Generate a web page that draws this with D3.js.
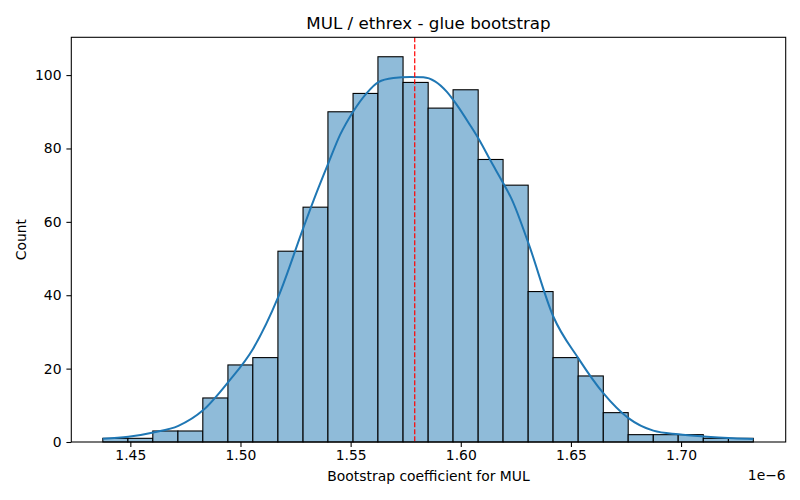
<!DOCTYPE html>
<html>
<head>
<meta charset="utf-8">
<script src="https://cdn.jsdelivr.net/npm/d3@7"></script>
<style>
	body { margin: 0; background: #fff; }
	svg { font-family: "DejaVu Sans", sans-serif; }
</style>
</head>
<body>
<svg id="chart"></svg>
<script>

	// histogram bins (x in units of 1e-6)
	var binEdges = [1.4375, 1.4489, 1.4602, 1.4716, 1.4829, 1.4943, 1.5056, 1.5170, 1.5284,
		1.5397, 1.5511, 1.5624, 1.5738, 1.5852, 1.5965, 1.6079, 1.6192, 1.6306, 1.6419,
		1.6533, 1.6647, 1.6760, 1.6874, 1.6987, 1.7101, 1.7215, 1.7328];

	var counts = [1, 1, 3, 3, 12, 21, 23, 52, 64, 90, 95, 105, 98, 91, 96, 77, 70, 41,
		23, 18, 8, 2, 2, 2, 1, 1];

	// kde curve
	var kdeX = [1.4375, 1.4491, 1.4604, 1.4718, 1.4831, 1.4945, 1.5058, 1.5172, 1.5285,
		1.5334, 1.5399, 1.5452, 1.5512, 1.5573, 1.5626, 1.5694, 1.5770, 1.5830, 1.5883,
		1.5936, 1.5982, 1.6042, 1.6088, 1.6133, 1.6193, 1.6231, 1.6307, 1.6420, 1.6534,
		1.6647, 1.6761, 1.6874, 1.6988, 1.7101, 1.7237, 1.7328];

	var kdeY = [0.9, 1.4, 2.6, 4.4, 8.7, 16.4, 25.5, 39.6, 58.3,
		66.2, 76.0, 83.7, 90.1, 95.1, 98.1, 99.2, 99.5, 99.4, 98.3,
		95.5, 91.9, 86.4, 81.9, 76.9, 70.5, 66.2, 54.2, 34.2, 22.8,
		13.3, 6.5, 3.1, 2.1, 1.5, 1.0, 0.8];

	var xTicks = [1.45, 1.50, 1.55, 1.60, 1.65, 1.70];
	var yTicks = [0, 20, 40, 60, 80, 100];
	var refLine = 1.5791;

	(function() {

		var width = 800,
			height = 500,
			mLeft = 71.3,
			mRight = 785.7,
			mTop = 37.3,
			mBottom = 442;

		var svg = d3.select("#chart")
			.attr("width", width)
			.attr("height", height)

		var x = d3.scaleLinear()
			.domain([1.4232, 1.7475])
			.range([mLeft, mRight]);

		var y = d3.scaleLinear()
			.domain([0, 110.3])
			.range([mBottom, mTop]);

		var bins = counts.map(function(c, i) {
			return { x0: binEdges[i], x1: binEdges[i + 1], count: c };
		});

		// bars
		svg.append("g")
			.selectAll("rect")
			.data(bins)
			.enter().append("rect")
			.attr("x", function(d) { return x(d.x0); })
			.attr("y", function(d) { return y(d.count); })
			.attr("width", function(d) { return x(d.x1) - x(d.x0); })
			.attr("height", function(d) { return y(0) - y(d.count); })
			.style("fill", "#8fbbd9")
			.style("stroke", "#000")
			.style("stroke-width", 1.1);

		// kde
		var line = d3.line()
			.x(function(d) { return x(d[0]); })
			.y(function(d) { return y(d[1]); })
			.curve(d3.curveMonotoneX);

		svg.append("path")
			.attr("d", line(d3.zip(kdeX, kdeY)))
			.style("fill", "none")
			.style("stroke", "#1f77b4")
			.style("stroke-width", 2);

		// reference line
		svg.append("line")
			.attr("x1", x(refLine))
			.attr("x2", x(refLine))
			.attr("y1", mTop)
			.attr("y2", mBottom)
			.style("stroke", "red")
			.style("stroke-width", 1.2)
			.style("stroke-dasharray", "5,2");

		// axes
		var xAxis = d3.axisBottom(x)
			.tickValues(xTicks)
			.tickFormat(d3.format(".2f"))
			.tickSize(4.9)
			.tickPadding(4.9);

		var yAxis = d3.axisLeft(y)
			.tickValues(yTicks)
			.tickSize(4.9)
			.tickPadding(4.9);

		var gx = svg.append("g")
			.attr("transform", "translate(0," + mBottom + ")")
			.call(xAxis);

		var gy = svg.append("g")
			.attr("transform", "translate(" + mLeft + ",0)")
			.call(yAxis);

		[gx, gy].forEach(function(g) {
			g.select(".domain").remove();
			g.selectAll("line").style("stroke", "#000").style("stroke-width", 1.07);
			g.selectAll("text")
				.style("font-size", "13.9px")
				.style("fill", "#000")
				.style("font-family", "DejaVu Sans, sans-serif");
		});

		gx.selectAll("text").attr("dy", "0.6em");

		// frame
		svg.append("rect")
			.attr("x", mLeft)
			.attr("y", mTop)
			.attr("width", mRight - mLeft)
			.attr("height", mBottom - mTop)
			.style("fill", "none")
			.style("stroke", "#000")
			.style("stroke-width", 1.07);

		// texts
		svg.append("text")
			.attr("x", (mLeft + mRight) / 2)
			.attr("y", 28.5)
			.style("text-anchor", "middle")
			.style("font-size", "16.7px")
			.text("MUL / ethrex - glue bootstrap");

		svg.append("text")
			.attr("x", (mLeft + mRight) / 2)
			.attr("y", 481)
			.style("text-anchor", "middle")
			.style("font-size", "13.9px")
			.text("Bootstrap coefficient for MUL");

		svg.append("text")
			.attr("x", mRight)
			.attr("y", 480)
			.style("text-anchor", "end")
			.style("font-size", "13.9px")
			.text("1e\u22126");

		svg.append("text")
			.attr("transform", "translate(26," + ((mTop + mBottom) / 2) + ") rotate(-90)")
			.style("text-anchor", "middle")
			.style("font-size", "13.9px")
			.text("Count");

	})();

</script>
</body>
</html>
